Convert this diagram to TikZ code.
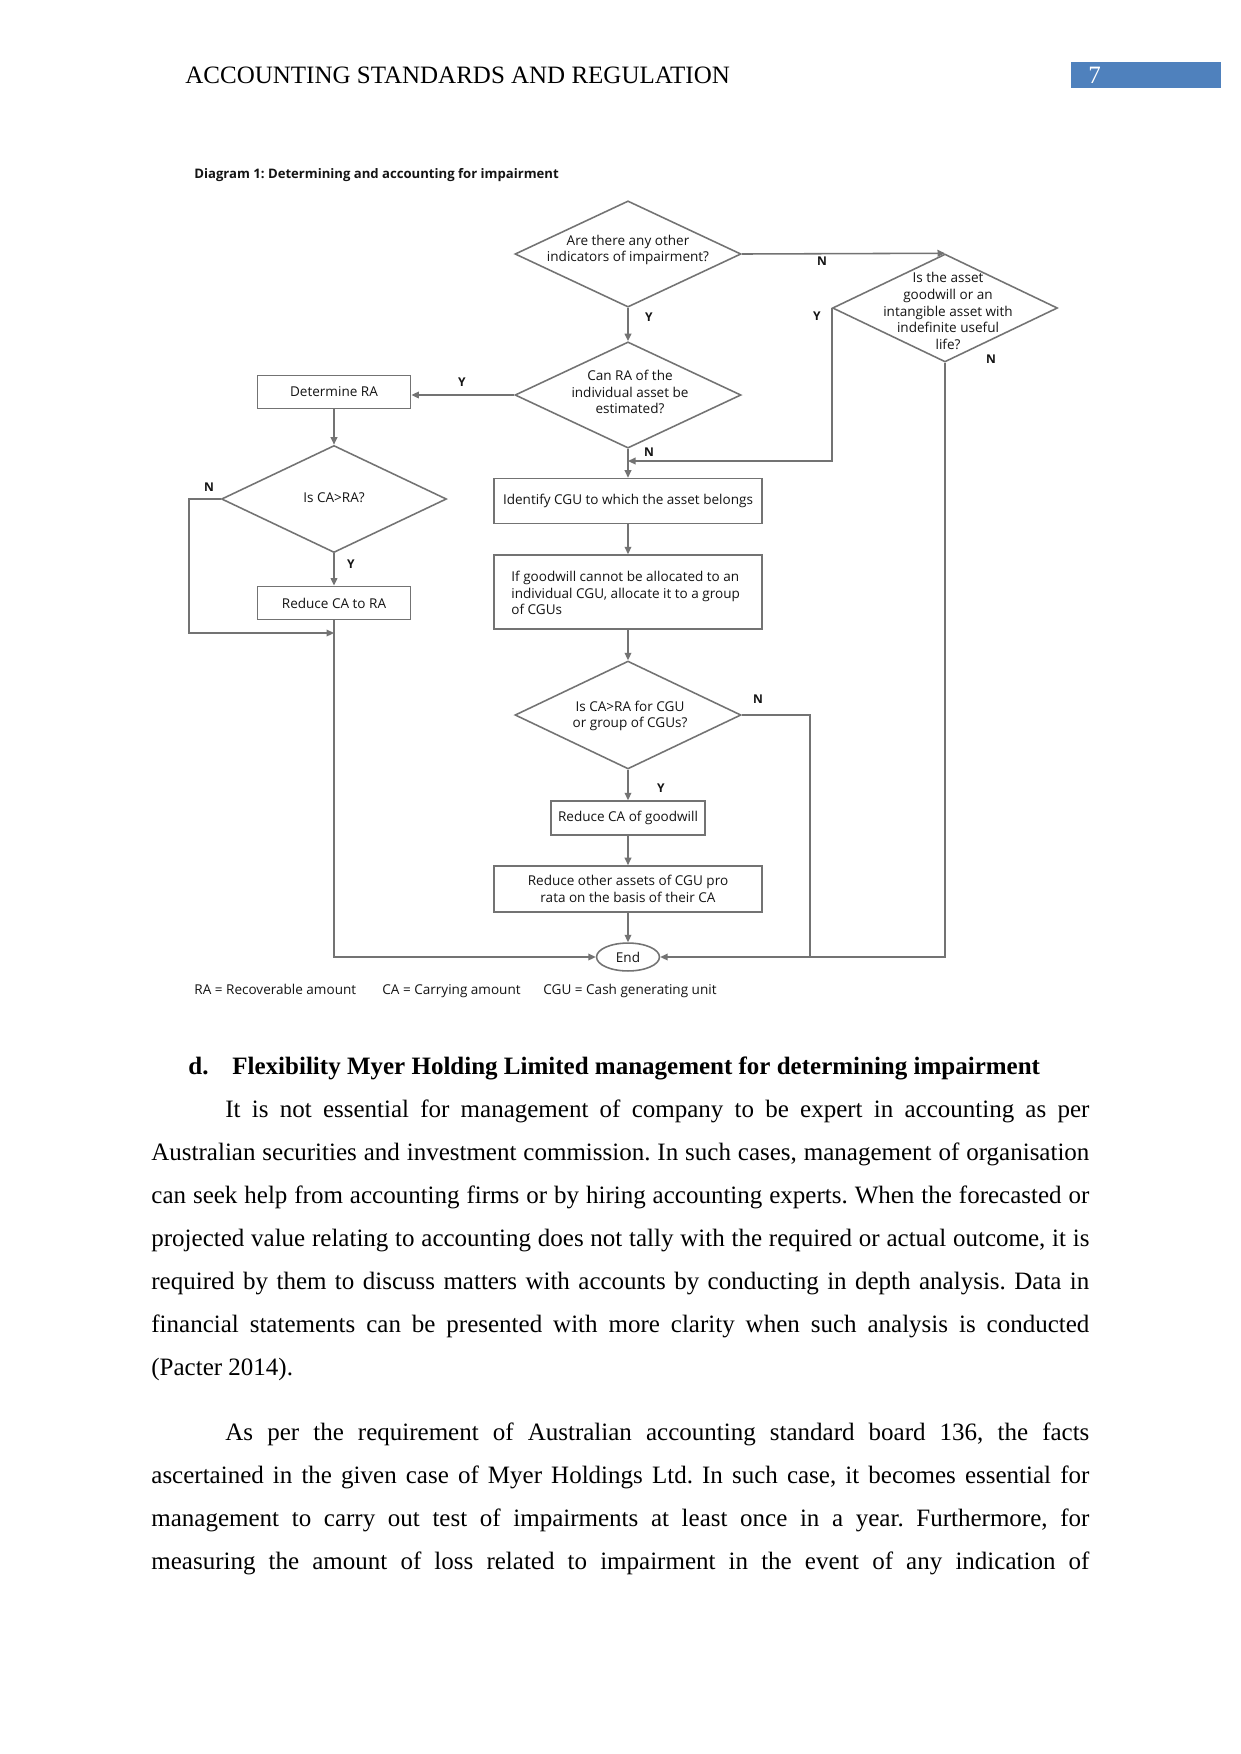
\documentclass[tikz,border=0pt]{standalone}
\usepackage{fontspec}
\setmainfont{Liberation Serif}
\newfontfamily\dfont{Open Sans}
\usetikzlibrary{arrows.meta,shapes.geometric}
\definecolor{lin}{RGB}{115,115,115}
\definecolor{dtxt}{RGB}{20,20,20}
\definecolor{hblue}{RGB}{79,129,189}
\newcommand{\jline}[2]{\makebox[#1][s]{#2}}
\frenchspacing
\begin{document}
\frenchspacing
\begin{tikzpicture}[x=0.48pt,y=-0.48pt,
  dtext/.style={font=\dfont\fontsize{6.5}{8}\selectfont, text=dtxt, inner sep=0pt},
  dlab/.style={font=\dfont\bfseries\fontsize{5.8}{7}\selectfont, text=dtxt, inner sep=0pt},
  dia/.style={draw=lin, line width=0.75pt, diamond, inner sep=0pt, minimum width=108.5pt, minimum height=51pt},
  dbox/.style={draw=lin, line width=0.75pt, rectangle, inner sep=0pt, minimum width=128.6pt},
  sbox/.style={draw=lin, line width=0.75pt, rectangle, inner sep=0pt, minimum width=73.6pt, minimum height=16pt, font=\dfont\fontsize{6.5}{8}\selectfont, text=dtxt},
  conn/.style={draw=lin, line width=0.75pt},
  arr/.style={conn, -{Triangle[length=3.6pt,width=3.2pt]}},
  body/.style={anchor=base west, inner sep=0pt, font=\fontsize{12}{14}\selectfont},
]
\useasboundingbox (0,0) rectangle (1241,1754);
\fill[white] (0,0) rectangle (1241,1754);

% header
\node[body] (hdr) at (185,83) {ACCOUNTING STANDARDS AND REGULATION};
\fill[hblue] (1071,62) rectangle (1221,88);
\node[body, text=white] (pg) at (1088,83) {7};

% title
\node[dtext, anchor=base west, font=\dfont\bfseries\fontsize{6.3}{8}\selectfont] (title) at (194,178) {Diagram 1: Determining and accounting for impairment};

% diamonds
\node[dia] (d1) at (628,254) {};
\node[dtext, align=center] (t1) at (628,250) {Are there any other\\indicators of impairment?};
\node[dia] (d2) at (628,395) {};
\node[dtext, align=center] (t2) at (630,392) {Can RA of the\\individual asset be\\estimated?};
\node[dia, minimum width=108pt, minimum height=51.4pt] (d3) at (334,499) {};
\node[dtext, align=center] (t3) at (334,498) {Is CA>RA?};
\node[dia, minimum width=108pt, minimum height=51.8pt] (d4) at (945,308) {};
\node[dtext, align=center] (t4) at (948,311) {Is the asset\\goodwill or an\\intangible asset with\\indefinite useful\\life?};
\node[dia, minimum height=51.8pt] (d5) at (628,715) {};
\node[dtext, align=center] (t5) at (630,716) {Is CA>RA for CGU\\or group of CGUs?};

% boxes
\node[sbox] (dra) at (334,392) {Determine RA};
\node[sbox] (rcr) at (334,603) {Reduce CA to RA};
\node[dbox, minimum height=21.6pt, dtext] (idc) at (628,501) {Identify CGU to which the asset belongs};
\node[dbox, minimum height=35.5pt] (gw) at (628,592) {};
\node[dtext, align=left, anchor=west] (gwt) at (511,593) {If goodwill cannot be allocated to an\\individual CGU, allocate it to a group\\of CGUs};
\node[sbox, minimum width=73.9pt, minimum height=16.3pt] (rcg) at (628,818) {Reduce CA of goodwill};
\node[dbox, minimum height=22.1pt, dtext, align=center] (roa) at (628,889) {Reduce other assets of CGU pro\\rata on the basis of their CA};
\node[draw=lin, line width=0.75pt, ellipse, inner sep=0pt, minimum width=30.2pt, minimum height=13.4pt, font=\dfont\fontsize{6.5}{8}\selectfont, text=dtxt] (end) at (628,957) {End};

% junction coordinates
\coordinate (j1) at (628,461);
\coordinate (k3) at (189,499);
\coordinate (j2) at (334,633);
\coordinate (k5) at (810,957);

% connectors
\draw[arr] (d1.south) -- (d2.north);
\draw[arr] (d1.east) -- (d4.north);
\draw[arr] (d2.west) -- (dra.east |- d2.west);
\draw[arr] (d2.south) -- (idc.north);
\draw[arr] (d4.west) |- (j1);
\draw[arr] (dra.south) -- (d3.north);
\draw[arr] (d3.south) -- (rcr.north);
\draw[arr] (d3.west) -- (k3) |- (j2);
\draw[arr] (rcr.south) |- (end.west);
\draw[arr] (idc.south) -- (gw.north);
\draw[arr] (gw.south) -- (d5.north);
\draw[arr] (d5.south) -- (rcg.north);
\draw[arr] (rcg.south) -- (roa.north);
\draw[arr] (roa.south) -- (end.north);
\draw[arr] (d4.south) |- (end.east);
\draw[conn] (d5.east) -| (k5);

% connector labels
\node[dlab] (ly1) at (649,317) {Y};
\node[dlab] (ln1) at (822,261) {N};
\node[dlab] (ly2) at (462,382) {Y};
\node[dlab] (ln2) at (649,452) {N};
\node[dlab] (ly4) at (817,316) {Y};
\node[dlab] (ln4) at (991,359) {N};
\node[dlab] (ln3) at (209,487) {N};
\node[dlab] (ly3) at (351,564) {Y};
\node[dlab] (ln5) at (758,699) {N};
\node[dlab] (ly5) at (661,788) {Y};

% legend
\node[dtext, anchor=base west] (lg1) at (194,994) {RA = Recoverable amount};
\node[dtext, anchor=base west] (lg2) at (382,994) {CA = Carrying amount};
\node[dtext, anchor=base west] (lg3) at (543,994) {CGU = Cash generating unit};

% body text
\node[body, font=\bfseries\fontsize{12}{14}\selectfont] (hd) at (188,1074) {d.};
\node[body, font=\bfseries\fontsize{12}{14}\selectfont] (hdt) at (232,1074) {Flexibility Myer Holding Limited management for determining impairment};

\node[body] (p1) at (225,1117) {\jline{414.7pt}{It is not essential for management of company to be expert in accounting as per}};
\node[body] (p2) at (151,1160) {\jline{450.2pt}{Australian securities and investment commission. In such cases, management of organisation}};
\node[body] (p3) at (151,1203) {\jline{450.2pt}{can seek help from accounting firms or by hiring accounting experts. When the forecasted or}};
\node[body] (p4) at (151,1246) {\jline{450.2pt}{projected value relating to accounting does not tally with the required or actual outcome, it is}};
\node[body] (p5) at (151,1289) {\jline{450.2pt}{required by them to discuss matters with accounts by conducting in depth analysis. Data in}};
\node[body] (p6) at (151,1332) {\jline{450.2pt}{financial statements can be presented with more clarity when such analysis is conducted}};
\node[body] (p7) at (151,1375) {(Pacter 2014).};

\node[body] (q1) at (225,1440) {\jline{414.7pt}{As per the requirement of Australian accounting standard board 136, the facts}};
\node[body] (q2) at (151,1483) {\jline{450.2pt}{ascertained in the given case of Myer Holdings Ltd. In such case, it becomes essential for}};
\node[body] (q3) at (151,1526) {\jline{450.2pt}{management to carry out test of impairments at least once in a year. Furthermore, for}};
\node[body] (q4) at (151,1569) {\jline{450.2pt}{measuring the amount of loss related to impairment in the event of any indication of}};
\end{tikzpicture}
\end{document}
